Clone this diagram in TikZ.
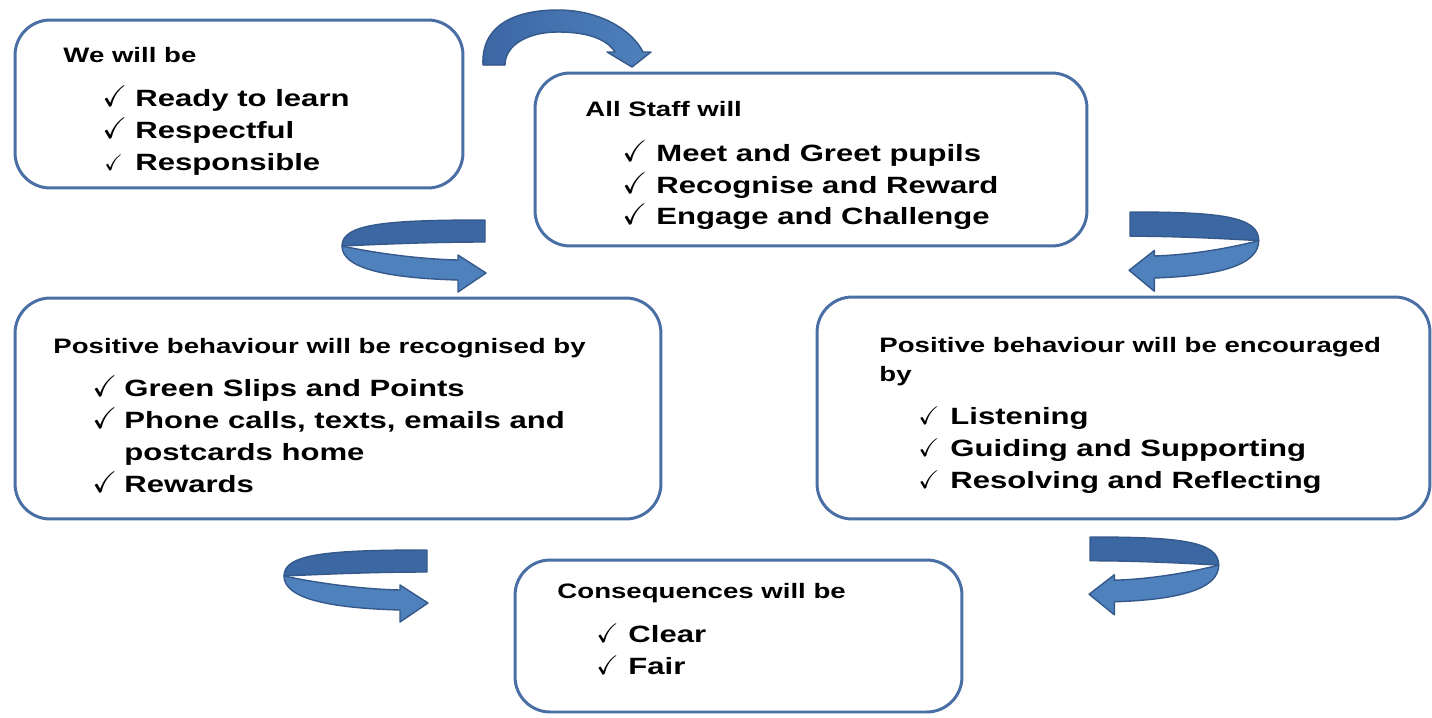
\documentclass[tikz,border=0pt]{standalone}
\usepackage{amssymb}
\usepackage{fontspec}
\setmainfont{Liberation Sans}
\definecolor{boxline}{HTML}{4A6FA5}
\definecolor{curlfront}{HTML}{4F81BD}
\definecolor{curlback}{HTML}{3B67A3}
\definecolor{curledge}{HTML}{35598A}

% curled ribbon arrow, origin at the far end of the back band, pointing right
\newcommand{\curlarrow}{%
\filldraw[curlbk] (0,0) .. controls (-100,0) and (-143,4) .. (-143,26)
  .. controls (-120,25) and (-60,22) .. (0,22) -- cycle;
\filldraw[curlfr] (-143,26) .. controls (-143,48) and (-100,58) .. (-27,60)
  -- (-27,72) -- (1,53) -- (-27,35) -- (-27,40)
  .. controls (-70,39) and (-115,32) .. (-143,26) -- cycle;}

\begin{document}
\begin{tikzpicture}[x=0.02cm,y=-0.02cm,line join=round,
  box/.style={draw=boxline,line width=1.7pt,rounded corners=20pt,fill=white},
  curlbk/.style={fill=curlback,draw=curledge,line width=0.8pt},
  curlfr/.style={fill=curlfront,draw=curledge,line width=0.8pt},
  ttl/.style={anchor=base west,inner sep=0pt,xscale=1.32,font=\bfseries\fontsize{11.9}{14}\selectfont},
  itm/.style={anchor=base west,inner sep=0pt,xscale=1.32,font=\bfseries\fontsize{13.4}{16}\selectfont},
  tick/.style={anchor=base west,inner sep=0pt,font=\fontsize{17}{20}\selectfont}]
\useasboundingbox (0,0) rectangle (1432,717);

% boxes
\node[box,minimum width=8.96cm,minimum height=3.36cm] (webox) at (239,104) {};
\node[box,minimum width=11.04cm,minimum height=3.46cm] (staffbox) at (811,159.5) {};
\node[box,minimum width=12.92cm,minimum height=4.42cm] (recbox) at (338,408.5) {};
\node[box,minimum width=12.26cm,minimum height=4.44cm] (encbox) at (1123.5,408) {};
\node[box,minimum width=8.94cm,minimum height=3.04cm] (consbox) at (738.5,636) {};

% top arrow
\filldraw[left color=curlback,right color=curlfront,draw=curledge,line width=0.8pt]
  (483,65) .. controls (481,25) and (515,10) .. (558,10)
  .. controls (600,10) and (632,30) .. (643,52) -- (651,52) -- (632,67) -- (607,52) -- (615,52)
  .. controls (606,38) and (585,32) .. (558,32)
  .. controls (528,32) and (505,45) .. (505,65) -- cycle;

% curled arrows
\begin{scope}[shift={(485,220)}]
\curlarrow
\end{scope}
\begin{scope}[shift={(427,550)}]
\curlarrow
\end{scope}
\begin{scope}[shift={(1130,212)},xscale=-0.9,yscale=1.1]
\curlarrow
\end{scope}
\begin{scope}[shift={(1090,537)},xscale=-0.9,yscale=1.08]
\curlarrow
\end{scope}

% We will be
\node[ttl] (we) at (63,62) {We will be};
\node[tick] (wec1) at (102,106) {$\checkmark$};
\node[tick] (wec2) at (102,138) {$\checkmark$};
\node[tick,scale=0.75] (wec3) at (104,170) {$\checkmark$};
\node[itm] (we1) at (135,106) {Ready to learn};
\node[itm] (we2) at (135,138) {Respectful};
\node[itm] (we3) at (135,170) {Responsible};

% All Staff will
\node[ttl] (staff) at (585,116) {All Staff will};
\node[tick] (staffc1) at (622,161) {$\checkmark$};
\node[tick] (staffc2) at (622,193) {$\checkmark$};
\node[tick] (staffc3) at (622,224) {$\checkmark$};
\node[itm] (staff1) at (656,161) {Meet and Greet pupils};
\node[itm] (staff2) at (656,193) {Recognise and Reward};
\node[itm] (staff3) at (656,224) {Engage and Challenge};

% recognised by
\node[ttl] (rec) at (53,353) {Positive behaviour will be recognised by};
\node[tick] (recc1) at (92,396) {$\checkmark$};
\node[tick] (recc2) at (92,428) {$\checkmark$};
\node[tick] (recc3) at (92,492) {$\checkmark$};
\node[itm] (rec1) at (124,396) {Green Slips and Points};
\node[itm] (rec2) at (124,428) {Phone calls, texts, emails and};
\node[itm] (rec2b) at (124,460) {postcards home};
\node[itm] (rec3) at (124,492) {Rewards};

% encouraged by
\node[ttl] (enc) at (879,352) {Positive behaviour will be encouraged};
\node[ttl] (encb) at (879,381) {by};
\node[tick,scale=0.85] (encc1) at (918,424) {$\checkmark$};
\node[tick,scale=0.85] (encc2) at (918,456) {$\checkmark$};
\node[tick,scale=0.85] (encc3) at (918,488) {$\checkmark$};
\node[itm] (enc1) at (950,424) {Listening};
\node[itm] (enc2) at (950,456) {Guiding and Supporting};
\node[itm] (enc3) at (950,488) {Resolving and Reflecting};

% consequences
\node[ttl] (cons) at (557,598) {Consequences will be};
\node[tick,scale=0.9] (consc1) at (596,642) {$\checkmark$};
\node[tick,scale=0.9] (consc2) at (596,674) {$\checkmark$};
\node[itm] (cons1) at (628,642) {Clear};
\node[itm] (cons2) at (628,674) {Fair};
\end{tikzpicture}
\end{document}
